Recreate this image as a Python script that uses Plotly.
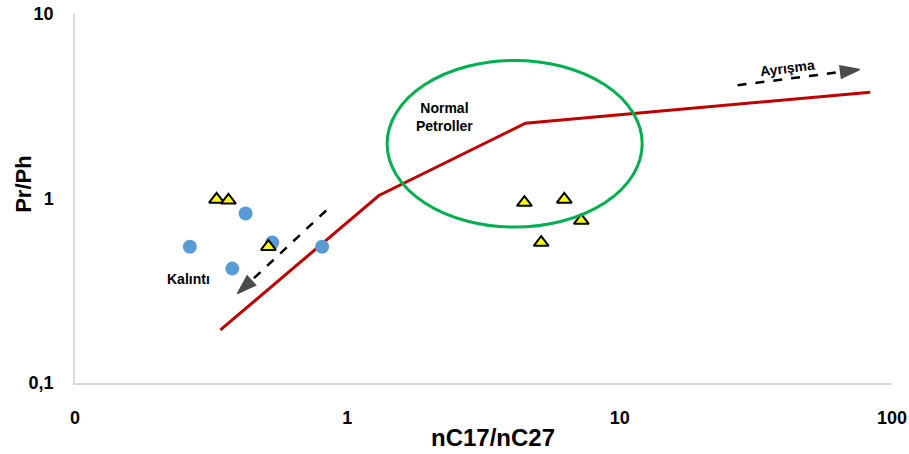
import plotly.graph_objects as go
import numpy as np

# Data
circle_x = [0.264, 0.378, 0.423, 0.530, 0.808]
circle_y = [0.548, 0.417, 0.829, 0.577, 0.548]

tri_x = [0.331, 0.366, 0.513, 4.47, 6.26, 5.15, 7.23]
tri_y = [0.988, 0.977, 0.548, 0.951, 0.988, 0.577, 0.759]

line_x = [0.342, 1.306, 4.51, 83.2]
line_y = [0.194, 1.038, 2.557, 3.77]

# Ellipse bounds (data units)
ell_x = [1.40, 12.1]
ell_y = [0.70, 5.6]

arrow1_x = [0.836, 0.395]
arrow1_y = [0.861, 0.305]
arrow2_x = [27.1, 76.0]
arrow2_y = [4.11, 5.0]

x_tickvals = [0.1, 1, 10, 100]
x_ticktext = ["0", "1", "10", "100"]
y_tickvals = [0.1, 1, 10]
y_ticktext = ["0,1", "1", "10"]

FONT = "Liberation Sans, Arial, sans-serif"

fig = go.Figure()

fig.add_trace(go.Scatter(x=line_x, y=line_y, mode="lines",
                         line=dict(color="#C00000", width=3), showlegend=False))

fig.add_shape(type="circle", xref="x", yref="y",
              x0=ell_x[0], x1=ell_x[1], y0=ell_y[0], y1=ell_y[1],
              line=dict(color="#00B050", width=3))

fig.add_trace(go.Scatter(x=circle_x, y=circle_y, mode="markers",
                         marker=dict(symbol="circle", size=14, color="#5B9BD5"),
                         showlegend=False))
fig.add_trace(go.Scatter(x=tri_x, y=tri_y, mode="markers",
                         marker=dict(symbol="triangle-up", size=13, color="#FFFF00",
                                     line=dict(color="black", width=2)),
                         showlegend=False))

for ax_, ay_ in [(arrow1_x, arrow1_y), (arrow2_x, arrow2_y)]:
    fig.add_trace(go.Scatter(x=ax_, y=ay_, mode="lines+markers",
                             line=dict(color="black", width=2.5, dash="dash"),
                             marker=dict(symbol="arrow", size=[0, 20], color="black",
                                         angleref="previous",
                                         line=dict(color="black", width=1.5)),
                             showlegend=False))

fig.add_annotation(x=np.log10(0.262), y=np.log10(0.367), text="<b>Kalıntı</b>",
                   showarrow=False, font=dict(family=FONT, size=14, color="black"))
fig.add_annotation(x=np.log10(2.28), y=np.log10(2.75), text="<b>Normal<br>Petroller</b>",
                   showarrow=False, font=dict(family=FONT, size=14, color="black"))
fig.add_annotation(x=np.log10(41.3), y=np.log10(5.1), text="<b>Ayrışma</b>", textangle=-7,
                   showarrow=False, font=dict(family=FONT, size=14, color="black"))

# Axis titles
fig.add_annotation(xref="paper", yref="paper", x=0.5, y=0, yanchor="middle",
                   xshift=9, yshift=-54, text="<b>nC17/nC27</b>", showarrow=False,
                   font=dict(family=FONT, size=24, color="black"))
fig.add_annotation(xref="paper", yref="paper", x=0, y=0.537, xanchor="center",
                   xshift=-51, text="<b>Pr/Ph</b>", textangle=-90, showarrow=False,
                   font=dict(family=FONT, size=22, color="black"))

fig.update_xaxes(type="log", range=[-1, 2], tickvals=x_tickvals, ticktext=x_ticktext,
                 showgrid=False, zeroline=False, showline=True, linecolor="#D9D9D9",
                 linewidth=1.5, ticks="", ticklabelstandoff=18, automargin=False,
                 tickfont=dict(family=FONT, size=18, color="black", weight="bold"))
fig.update_yaxes(type="log", range=[-1, 1], tickvals=y_tickvals, ticktext=y_ticktext,
                 showgrid=False, zeroline=False, showline=True, linecolor="#D9D9D9",
                 linewidth=1.5, ticks="", ticklabelstandoff=16, automargin=False,
                 tickfont=dict(family=FONT, size=18, color="black", weight="bold"))

fig.update_layout(width=909, height=454, margin=dict(l=75, r=17, t=14, b=71),
                  plot_bgcolor="white", paper_bgcolor="white")

fig.write_html("out.html")
